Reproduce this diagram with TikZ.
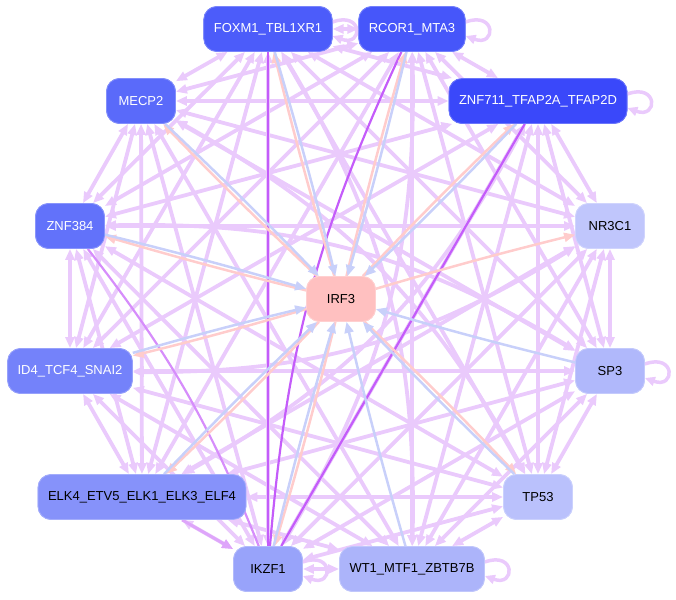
\documentclass[tikz,border=0pt]{standalone}
\usepackage{fontspec}
\setmainfont{Liberation Sans}
\usetikzlibrary{arrows.meta,calc}
\definecolor{lp}{RGB}{234,202,252}
\definecolor{mp}{RGB}{222,165,250}
\definecolor{dp}{RGB}{196,92,250}
\definecolor{bl}{RGB}{200,208,250}
\definecolor{pk}{RGB}{255,204,204}
\definecolor{cF}{RGB}{76,92,250}
\definecolor{cR}{RGB}{70,86,250}
\definecolor{cZb}{RGB}{58,72,250}
\definecolor{cM}{RGB}{90,106,250}
\definecolor{cZa}{RGB}{98,114,250}
\definecolor{cD}{RGB}{116,130,250}
\definecolor{cE}{RGB}{134,146,250}
\definecolor{cK}{RGB}{152,163,250}
\definecolor{cW}{RGB}{172,180,250}
\definecolor{cS}{RGB}{176,184,251}
\definecolor{cT}{RGB}{186,193,252}
\definecolor{cN}{RGB}{192,198,252}
\definecolor{cI}{RGB}{255,192,192}
\begin{document}
\begin{tikzpicture}[x=1pt,y=-1pt,
  nd/.style={rounded corners=13pt, minimum height=45pt, minimum width=69pt,
    inner xsep=10pt, font=\fontsize{13}{15}\selectfont, fill=#1, draw=#1!75!white, line width=0.8pt},
  lpe/.style={draw=lp, line width=3.8pt, {Triangle[length=11pt,width=9pt]}-{Triangle[length=11pt,width=9pt]}},
  lpl/.style={draw=lp, line width=3.5pt, -{Triangle[length=10pt,width=9pt]}},
  mpe/.style={draw=mp, line width=3pt, -{Triangle[length=11pt,width=9pt]}},
  dpe/.style={draw=dp, line width=2.2pt},
  pke/.style={draw=pk, line width=2.5pt, -{Triangle[length=11pt,width=9pt]}},
  ble/.style={draw=bl, line width=2.5pt, -{Triangle[length=11pt,width=9pt]}}]
\useasboundingbox (0,0) rectangle (676,599);
% nodes (placed first so names exist; redrawn on top later)
\path
  (268,29)  node[nd=cF, text=white] (F) {FOXM1\_TBL1XR1}
  (412,29)  node[nd=cR, text=white] (R) {RCOR1\_MTA3}
  (141,101) node[nd=cM, text=white] (M) {MECP2}
  (538,101) node[nd=cZb, text=white] (Zb) {ZNF711\_TFAP2A\_TFAP2D}
  (70,226)  node[nd=cZa, text=white] (Za) {ZNF384}
  (610,226) node[nd=cN] (N) {NR3C1}
  (341,299) node[nd=cI] (I) {IRF3}
  (70,371)  node[nd=cD, text=white] (D) {ID4\_TCF4\_SNAI2}
  (610,371) node[nd=cS] (S) {SP3}
  (142,497) node[nd=cE] (E) {ELK4\_ETV5\_ELK1\_ELK3\_ELF4}
  (538,497) node[nd=cT] (T) {TP53}
  (268,569) node[nd=cK] (K) {IKZF1}
  (412,569) node[nd=cW] (W) {WT1\_MTF1\_ZBTB7B};
% light purple edges
\foreach \a/\b in {F/R,F/M,F/Zb,F/Za,F/N,F/D,F/S,F/E,F/T,F/K,
  R/M,R/Zb,R/Za,R/N,R/D,R/S,R/E,R/T,R/W,
  M/Zb,M/Za,M/N,M/D,M/S,M/E,M/K,M/W,
  Zb/Za,Zb/N,Zb/D,Zb/S,Zb/T,Zb/K,Zb/W,
  Za/N,Za/D,Za/E,Za/T,Za/K,Za/W,
  N/S,N/E,N/T,N/K,N/W,
  D/S,D/E,D/T,D/K,D/W,
  S/E,S/T,S/K,S/W,
  E/T,E/K,E/W,
  T/K,T/W,
  K/W}
  \draw[lpe] (\a) -- (\b);
\foreach \a/\b in {F/W,R/K,M/T,Zb/E,Za/S,N/D}
  \draw[lpe] (\a) to[bend left=16] (\b);
% self loops
\foreach \n in {F,R,Zb,S,W,K}
  \draw[lpl] ([yshift=7pt]\n.east) to[out=20,in=-20,looseness=6] ([yshift=-7pt]\n.east);
% medium purple
\draw[mpe] (E) -- (K);
% dark purple
\draw[dpe] (F) -- (K);
\draw[dpe] (R) to[bend right=10] (K);
\draw[dpe] (Zb) -- (K);
\draw[dpe, draw=dp!70!white] (Za) to[bend left=8] (K);
% IRF3 edges
\foreach \n in {F,R,Zb,M,Za,D,E,K,T,N}
  \draw[pke] (I) to[bend left=1.2] (\n);
\foreach \n in {F,R,Zb,M,Za,D,E,K,W,T,S}
  \draw[ble] (\n) to[bend left=1.2] (I);
% nodes on top
\path
  (268,29)  node[nd=cF, text=white] {FOXM1\_TBL1XR1}
  (412,29)  node[nd=cR, text=white] {RCOR1\_MTA3}
  (141,101) node[nd=cM, text=white] {MECP2}
  (538,101) node[nd=cZb, text=white] {ZNF711\_TFAP2A\_TFAP2D}
  (70,226)  node[nd=cZa, text=white] {ZNF384}
  (610,226) node[nd=cN] {NR3C1}
  (341,299) node[nd=cI] {IRF3}
  (70,371)  node[nd=cD, text=white] {ID4\_TCF4\_SNAI2}
  (610,371) node[nd=cS] {SP3}
  (142,497) node[nd=cE] {ELK4\_ETV5\_ELK1\_ELK3\_ELF4}
  (538,497) node[nd=cT] {TP53}
  (268,569) node[nd=cK] {IKZF1}
  (412,569) node[nd=cW] {WT1\_MTF1\_ZBTB7B};
\end{tikzpicture}
\end{document}
